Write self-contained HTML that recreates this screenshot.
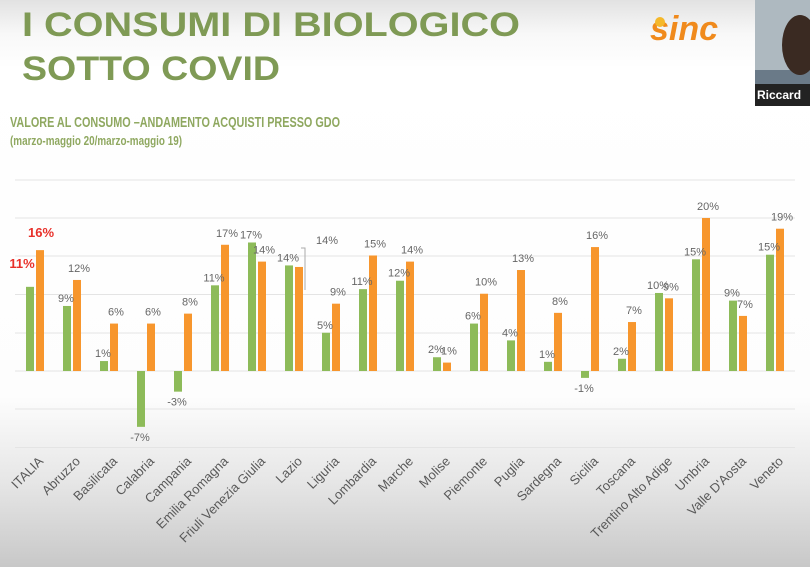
<!DOCTYPE html>
<html><head><meta charset="utf-8"><style>
body{margin:0;width:810px;height:567px;overflow:hidden;font-family:"Liberation Sans",sans-serif;}
</style></head><body>
<svg width="810" height="567" xmlns="http://www.w3.org/2000/svg" font-family="Liberation Sans, sans-serif">
<defs>
<linearGradient id="bg" x1="0" y1="0" x2="0" y2="1">
<stop offset="0" stop-color="#e2e2e2"/><stop offset="0.06" stop-color="#f8f8f8"/><stop offset="0.12" stop-color="#ffffff"/>
<stop offset="0.7" stop-color="#fdfdfd"/><stop offset="0.85" stop-color="#e6e6e6"/><stop offset="1" stop-color="#c8c8c8"/></linearGradient>
</defs>
<rect width="810" height="567" fill="url(#bg)"/>
<text x="22" y="36" font-size="34" font-weight="bold" fill="#7f9a55" transform="scale(1,1)" textLength="498" lengthAdjust="spacingAndGlyphs">I CONSUMI DI BIOLOGICO</text>
<text x="22" y="80" font-size="34" font-weight="bold" fill="#7f9a55" textLength="258" lengthAdjust="spacingAndGlyphs">SOTTO COVID</text>
<text x="10" y="127" font-size="15" font-weight="bold" fill="#8fa860" textLength="330" lengthAdjust="spacingAndGlyphs">VALORE AL CONSUMO –ANDAMENTO ACQUISTI PRESSO GDO</text>
<text x="10" y="145" font-size="13" font-weight="bold" fill="#8fa860" textLength="172" lengthAdjust="spacingAndGlyphs">(marzo-maggio 20/marzo-maggio 19)</text>
<text x="650" y="40" font-size="34" font-weight="bold" font-style="italic" fill="#f08a1c">sinc</text>
<circle cx="660" cy="22" r="5" fill="#f5b82a"/>
<rect x="755" y="0" width="55" height="106" fill="#6a7a88"/>
<rect x="755" y="0" width="55" height="70" fill="#aeb9c0"/>
<ellipse cx="800" cy="45" rx="18" ry="30" fill="#3a2a22"/>
<rect x="755" y="84" width="55" height="22" fill="#222"/>
<text x="757" y="99" font-size="12" font-weight="bold" fill="#fff">Riccard</text>
<g stroke="#e4e4e4" stroke-width="1">
<line x1="15" x2="795" y1="180" y2="180"/><line x1="15" x2="795" y1="218" y2="218"/>
<line x1="15" x2="795" y1="256" y2="256"/><line x1="15" x2="795" y1="294.5" y2="294.5"/>
<line x1="15" x2="795" y1="333" y2="333"/><line x1="15" x2="795" y1="371" y2="371"/>
<line x1="15" x2="795" y1="409" y2="409"/><line x1="15" x2="795" y1="447.5" y2="447.5"/>
</g>
<g id="bars"></g>
</svg>
<script>
var names=["ITALIA","Abruzzo","Basilicata","Calabria","Campania","Emilia Romagna","Friuli Venezia Giulia","Lazio","Liguria","Lombardia","Marche","Molise","Piemonte","Puglia","Sardegna","Sicilia","Toscana","Trentino Alto Adige","Umbria","Valle D'Aosta","Veneto"];
var g=[11,8.5,1.3,-7.3,-2.7,11.2,16.8,13.8,5,10.7,11.8,1.8,6.2,4,1.2,-0.9,1.6,10.2,14.6,9.2,15.2];
var o=[15.8,11.9,6.2,6.2,7.5,16.5,14.3,13.6,8.8,15.1,14.3,1.1,10.1,13.2,7.6,16.2,6.4,9.5,20,7.2,18.6];
var gl=["11%","9%","1%","-7%","-3%","11%","17%","14%","5%","11%","12%","2%","6%","4%","1%","-1%","2%","10%","15%","9%","15%"];
var ol=["16%","12%","6%","6%","8%","17%","14%","14%","9%","15%","14%","1%","10%","13%","8%","16%","7%","9%","20%","7%","19%"];
var s="",z=371,k=7.65;
for(var i=0;i<21;i++){var c=35+37*i;
var gh=g[i]*k,oh=o[i]*k;
s+='<rect x="'+(c-9)+'" y="'+(gh>=0?z-gh:z)+'" width="8" height="'+Math.abs(gh)+'" fill="#8dbb59"/>';
s+='<rect x="'+(c+1)+'" y="'+(z-oh)+'" width="8" height="'+oh+'" fill="#f7962d"/>';
if(i==0){s+='<text x="22" y="268" font-size="13" font-weight="bold" fill="#e8302a" text-anchor="middle">11%</text><text x="41" y="237" font-size="13" font-weight="bold" fill="#e8302a" text-anchor="middle">16%</text>';}
else{
var gy=gh>=0?z-gh-4:z-gh+14;
s+='<text x="'+(c-6)+'" y="'+gy+'" font-size="11" fill="#666" text-anchor="middle">'+gl[i]+'</text>';
var ox=c+7,oy=z-oh-8;
if(i==7){ox=c+33;oy=z-oh-23;}
s+='<text x="'+ox+'" y="'+oy+'" font-size="11" fill="#666" text-anchor="middle">'+ol[i]+'</text>';}
s+='<text x="'+(c+9)+'" y="462" font-size="13" fill="#595959" text-anchor="end" transform="rotate(-45 '+(c+9)+' 462)">'+names[i].replace("'","&#39;")+'</text>';
}
s+='<polyline points="301,248 305,248 305,290" fill="none" stroke="#aaa" stroke-width="1"/>';
document.getElementById("bars").innerHTML=s;
</script>
</body></html>
